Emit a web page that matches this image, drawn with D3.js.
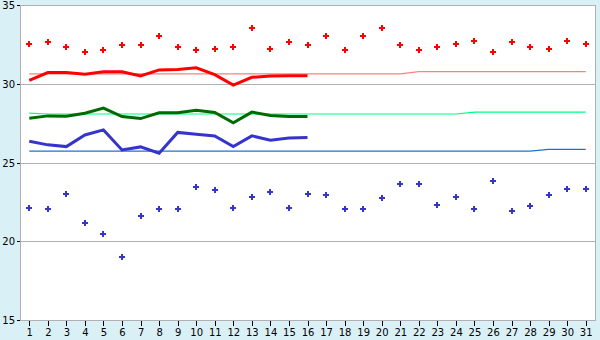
<!DOCTYPE html>
<html>
<head>
<meta charset="utf-8">
<script src="https://cdn.jsdelivr.net/npm/d3@7"></script>
<style>
  body { margin: 0; background: #daf0f7; }
  svg { display: block; }
  text { font-family: "DejaVu Sans", Verdana, sans-serif; font-size: 10px; fill: #000; }
</style>
</head>
<body>
<svg></svg>
<script>
let days = d3.range(1, 32)
let yTicks = [15, 20, 25, 30, 35]

// dots (daily max / min)
let highs = [32.53, 32.64, 32.32, 32.0, 32.13, 32.45, 32.45, 33.02, 32.32, 32.13,
             32.2, 32.32, 33.53, 32.2, 32.64, 32.45, 33.02, 32.13, 33.02, 33.53,
             32.45, 32.13, 32.32, 32.51, 32.7, 32.0, 32.64, 32.32, 32.2, 32.7, 32.51]
let lows = [22.1, 22.03, 22.99, 21.14, 20.44, 18.98, 21.59, 22.03, 22.03, 23.43,
            23.24, 22.1, 22.8, 23.11, 22.1, 22.99, 22.92, 22.03, 22.03, 22.73,
            23.62, 23.62, 22.29, 22.8, 22.03, 23.81, 21.9, 22.22, 22.92, 23.3, 23.3]

// thick lines, days 1-16
let redLine = [30.21, 30.71, 30.71, 30.61, 30.76, 30.76, 30.5, 30.88, 30.91, 31.01,
               30.58, 29.92, 30.41, 30.49, 30.51, 30.51]
let greenLine = [27.81, 27.96, 27.94, 28.13, 28.45, 27.92, 27.79, 28.16, 28.16, 28.31,
                 28.18, 27.52, 28.2, 27.99, 27.92, 27.92]
let blueLine = [26.35, 26.12, 26.01, 26.75, 27.07, 25.8, 25.99, 25.59, 26.91, 26.79,
                26.69, 26.01, 26.69, 26.42, 26.55, 26.58]

// thin reference lines, whole month
let pinkRef = [30.63, 30.63, 30.63, 30.63, 30.63, 30.63, 30.63, 30.63, 30.63, 30.63,
               30.63, 30.63, 30.63, 30.63, 30.63, 30.63, 30.63, 30.63, 30.63, 30.63,
               30.63, 30.77, 30.77, 30.77, 30.77, 30.77, 30.77, 30.77, 30.77, 30.77, 30.77]
let greenRef = [28.14, 28.08, 28.08, 28.08, 28.08, 28.08, 28.08, 28.08, 28.08, 28.08,
                28.08, 28.08, 28.08, 28.08, 28.08, 28.08, 28.08, 28.08, 28.08, 28.08,
                28.08, 28.08, 28.08, 28.08, 28.2, 28.2, 28.2, 28.2, 28.2, 28.2, 28.2]
let blueRef = [25.72, 25.72, 25.72, 25.72, 25.72, 25.72, 25.72, 25.72, 25.72, 25.72,
               25.72, 25.72, 25.72, 25.72, 25.72, 25.72, 25.72, 25.72, 25.72, 25.72,
               25.72, 25.72, 25.72, 25.72, 25.72, 25.72, 25.72, 25.72, 25.83, 25.83, 25.83]

let width = 600
let height = 340
let padLeft = 20, padRight = 595, padTop = 5, padBottom = 320

let svg = d3.select("svg").attr("width", width).attr("height", height)

let xScale = d3.scalePoint().domain(days).range([padLeft, padRight]).padding(0.5)
let yScale = d3.scaleLinear().domain([15, 35]).range([padBottom, padTop])

// plot background
svg.append("rect")
    .attr("x", padLeft).attr("y", padTop)
    .attr("width", padRight - padLeft).attr("height", padBottom - padTop)
    .attr("fill", "#ffffff")

// horizontal grid
svg.append("g")
    .selectAll("line")
    .data(yTicks)
    .enter()
    .append("line")
    .attr("x1", padLeft).attr("x2", padRight)
    .attr("y1", (d) => Math.round(yScale(d)) + 0.5)
    .attr("y2", (d) => Math.round(yScale(d)) + 0.5)
    .attr("stroke", "#b0b0b0")
    .attr("shape-rendering", "crispEdges")

// frame: left axis + right border
svg.append("line")
    .attr("x1", padLeft + 0.5).attr("x2", padLeft + 0.5).attr("y1", padTop).attr("y2", padBottom + 1)
    .attr("stroke", "#b0b0b0").attr("shape-rendering", "crispEdges")
svg.append("line")
    .attr("x1", padRight + 0.5).attr("x2", padRight + 0.5).attr("y1", padTop).attr("y2", padBottom + 1)
    .attr("stroke", "#b0b0b0").attr("shape-rendering", "crispEdges")

// axes
let xAxis = d3.axisBottom(xScale).tickSize(5).tickSizeOuter(0)
let gx = svg.append("g")
    .attr("transform", "translate(0," + (Math.round(padBottom) + 1) + ")")
    .call(xAxis)
gx.select(".domain").remove()
gx.selectAll("line").attr("stroke", "#000").attr("shape-rendering", "crispEdges")
gx.selectAll("text").attr("y", 8).attr("dy", "0.71em")
    .style("font-family", "DejaVu Sans").style("font-size", "10px")

let yAxis = d3.axisLeft(yScale).tickValues(yTicks).tickSize(3).tickPadding(2)
let gy = svg.append("g")
    .attr("transform", "translate(" + padLeft + ",0)")
    .call(yAxis)
gy.select(".domain").remove()
gy.selectAll("line").attr("stroke", "#000").attr("shape-rendering", "crispEdges")
gy.selectAll("text").style("font-family", "DejaVu Sans").style("font-size", "10px")
gy.selectAll(".tick").attr("transform", (d) => "translate(0," + (Math.round(yScale(d)) + 0.5) + ")")

let line = d3.line()
    .x((d, i) => xScale(days[i]))
    .y((d) => yScale(d))

let drawLine = (data, color, w) => {
    svg.append("path")
        .datum(data)
        .attr("d", line)
        .attr("fill", "none")
        .attr("stroke", color)
        .attr("stroke-width", w)
}

drawLine(pinkRef, "#ff8080", 1.2)
drawLine(greenRef, "#00ff80", 1.2)
drawLine(blueRef, "#1a73d9", 1.2)

drawLine(redLine, "#ff0000", 3)
drawLine(greenLine, "#006a00", 3)
drawLine(blueLine, "#3535cc", 3)

// markers: small bold plus
let marker = "M-1,-3h2v2h2v2h-2v2h-2v-2h-2v-2h2z"
let drawDots = (data, color) => {
    svg.append("g")
        .selectAll("path")
        .data(data)
        .enter()
        .append("path")
        .attr("d", marker)
        .attr("transform", (d, i) => "translate(" + Math.round(xScale(days[i])) + "," + Math.round(yScale(d)) + ")")
        .attr("fill", color)
}

drawDots(highs, "#ff0000")
drawDots(lows, "#3535cc")
</script>
</body>
</html>
